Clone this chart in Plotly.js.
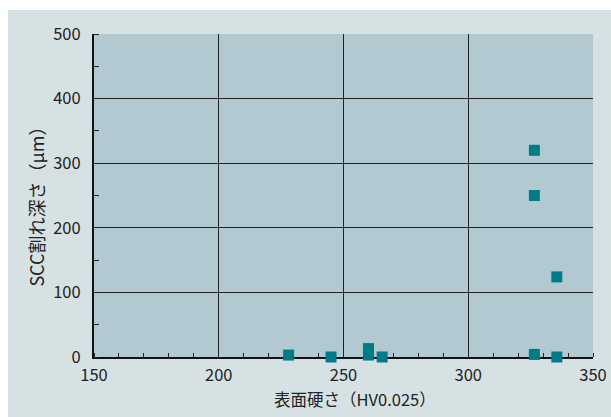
<!DOCTYPE html>
<html><head><meta charset="utf-8">
<script src="https://cdn.plot.ly/plotly-3.0.1.min.js"></script>
<style>html,body{margin:0;padding:0;background:#fff;}#chart{position:absolute;left:8px;top:10px;width:603px;height:407px;}</style>
</head><body><div id="chart"></div>
<script>
const hardness = [228, 245, 260, 260, 265.5, 326.5, 335.5, 326.5, 326.5, 335.5];
const crackDepth = [3, 0, 13, 3, 0, 4, 0, 320, 250, 124];
const xTicks = [150, 200, 250, 300, 350];
const yTicks = [0, 100, 200, 300, 400, 500];
const xTitle = '表面硬さ（HV0.025）';
const yTitle = 'SCC割れ深さ（μm）';
const font = '"Noto Sans CJK JP", "Noto Sans", sans-serif';
Plotly.newPlot('chart', [{
  x: hardness, y: crackDepth, type: 'scatter', mode: 'markers', cliponaxis: false,
  marker: {symbol: 'square', size: 11, color: '#007b87'}
}], {
  width: 603, height: 407,
  paper_bgcolor: '#d6e1e4', plot_bgcolor: '#b2c9d1',
  margin: {l: 86, r: 18, t: 24, b: 60},
  font: {family: font, size: 16, color: '#222'},
  showlegend: false,
  xaxis: {range: [150, 350], tickvals: xTicks, ticktext: xTicks.map(String),
    showgrid: true, gridcolor: '#222', gridwidth: 1, zeroline: false,
    showline: true, linecolor: '#111', linewidth: 2, layer: 'below traces',
    ticks: '', ticklabelstandoff: 2, tickfont: {size: 16.5, color: '#222'},
    minor: {dtick: 10, tick0: 150, ticks: 'inside', ticklen: 4, tickcolor: '#222', showgrid: false}},
  yaxis: {range: [0, 500], tickvals: yTicks, ticktext: yTicks.map(String),
    showgrid: true, gridcolor: '#222', gridwidth: 1, zeroline: false,
    showline: true, linecolor: '#111', linewidth: 2, layer: 'below traces',
    ticks: '', ticklabelstandoff: 8, tickfont: {size: 16.5, color: '#222'},
    minor: {dtick: 50, tick0: 0, ticks: 'inside', ticklen: 5, tickcolor: '#222', showgrid: false}},
  annotations: [
    {text: xTitle, xref: 'paper', yref: 'paper', x: 0.523, y: -0.130, xanchor: 'center', yanchor: 'middle',
     showarrow: false, font: {size: 16.5, color: '#222'}},
    {text: yTitle, xref: 'paper', yref: 'paper', x: -0.1162, y: 0.478, xanchor: 'center', yanchor: 'middle',
     textangle: -90, showarrow: false, font: {size: 18, color: '#222'}}
  ]
}, {displayModeBar: false, staticPlot: true});
</script></body></html>
